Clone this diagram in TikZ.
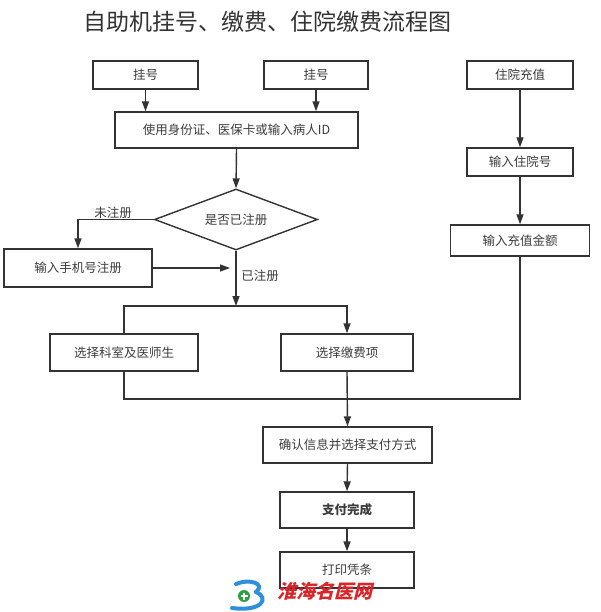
\documentclass[tikz,border=0pt]{standalone}
\usepackage{fontspec}
\setmainfont{Noto Sans CJK SC}
\usetikzlibrary{arrows.meta,shapes.geometric}
\definecolor{linegray}{HTML}{333333}
\definecolor{textgray}{HTML}{3C3C3C}
\definecolor{markred}{HTML}{D9262B}
\definecolor{markblue}{HTML}{2F8FD8}
\definecolor{markgreen}{HTML}{2EA043}
\tikzset{
  box/.style={draw=linegray, line width=1.4pt, inner sep=0pt, text=textgray,
    font=\fontsize{12.5}{15}\selectfont},
  arr/.style={draw=linegray, line width=1.4pt, -{Triangle[length=10pt,width=7pt]}},
  ln/.style={draw=linegray, line width=1.4pt},
  lbl/.style={text=textgray, font=\fontsize{12.5}{15}\selectfont}
}
\begin{document}
\begin{tikzpicture}[x=1pt,y=-1pt]
  \useasboundingbox (0,0) rectangle (600,612);
  % title
  \node[text=linegray, font=\fontsize{23}{27}\selectfont] (title) at (267,22) {自助机挂号、缴费、住院缴费流程图};
  % registration boxes
  \node[box, minimum width=105pt, minimum height=28pt] (reg1) at (145.5,75) {挂号};
  \node[box, minimum width=104pt, minimum height=28pt] (reg2) at (316,75) {挂号};
  \node[box, minimum width=243pt, minimum height=36pt] (ident) at (236.5,130) {使用身份证、医保卡或输入病人ID};
  \node[box, diamond, aspect=2.67, minimum width=163pt, minimum height=61pt] (check) at (236,219.5) {是否已注册};
  \node[box, minimum width=148pt, minimum height=38pt] (phone) at (78,268) {输入手机号注册};
  \node[box, minimum width=148pt, minimum height=37pt] (dept) at (124,352.5) {选择科室及医师生};
  \node[box, minimum width=132pt, minimum height=37pt] (item) at (347,352.5) {选择缴费项};
  % payment boxes
  \node[box, minimum width=169pt, minimum height=36pt] (confirm) at (347.5,445) {确认信息并选择支付方式};
  \node[box, minimum width=134pt, minimum height=36pt, font=\fontsize{12.5}{15}\selectfont\bfseries] (done) at (347,510) {支付完成};
  \node[box, minimum width=134pt, minimum height=36pt] (print) at (347,570) {打印凭条};
  % hospital deposit boxes
  \node[box, minimum width=106pt, minimum height=28pt] (dep1) at (520,75) {住院充值};
  \node[box, minimum width=106pt, minimum height=28pt] (dep2) at (520,162) {输入住院号};
  \node[box, minimum width=139pt, minimum height=31pt] (dep3) at (520,240.5) {输入充值金额};
  % joints
  \coordinate (regjoin) at (230,268);
  \coordinate (split) at (236,306);
  \coordinate (merge) at (347,399);
  % arrows
  \draw[arr] (reg1.south) -- (reg1.south |- ident.north);
  \draw[arr] (reg2.south) -- (reg2.south |- ident.north);
  \draw[arr] (ident.south) -- (check.north);
  \draw[arr] (check.west) -| (phone.north);
  \node[lbl] (notreg) at (113,213) {未注册};
  \draw[arr] (phone.east) -- (regjoin);
  \draw[arr] (check.south) -- (split);
  \node[lbl] (isreg) at (260,276) {已注册};
  \draw[arr] (dept.north) |- (split) -| (item.north);
  \draw[arr] (dep1.south) -- (dep2.north);
  \draw[arr] (dep2.south) -- (dep3.north);
  \draw[ln] (dept.south) |- (merge);
  \draw[ln] (dep3.south) |- (merge);
  \draw[arr] (item.south) -- (confirm.north);
  \draw[arr] (confirm.south) -- (done.north);
  \draw[arr] (done.south) -- (print.north);
  % watermark
  \draw[markblue, line width=4pt, line cap=round] (236,584) .. controls (250,578) and (266,584) .. (256,592);
  \draw[markblue, line width=4pt, line cap=round] (256,592) .. controls (270,598) and (262,612) .. (232,608);
  \fill[markgreen] (244,596) circle (6pt);
  \draw[white, line width=1.6pt] (240.5,596) -- (247.5,596) (244,592.5) -- (244,599.5);
  \node[text=markred, xslant=0.25, font=\fontsize{19}{22}\selectfont\bfseries] (mark) at (327,591) {淮海名医网};
\end{tikzpicture}
\end{document}
